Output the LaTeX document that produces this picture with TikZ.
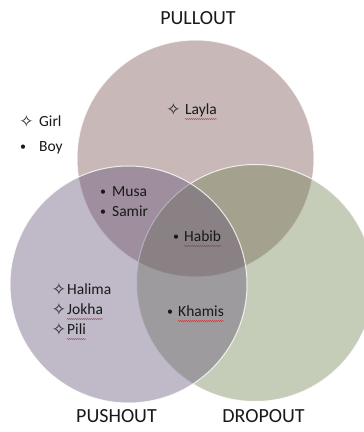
\documentclass[tikz,border=0pt]{standalone}
\usepackage{fontspec}
\setmainfont{Carlito}
\newfontfamily\symfont{DejaVu Sans}
\usetikzlibrary{decorations.pathmorphing}
\definecolor{pullc}{RGB}{120,78,78}
\definecolor{pushc}{RGB}{98,80,118}
\definecolor{dropc}{RGB}{110,130,80}
\definecolor{spellc}{RGB}{200,40,40}
\tikzset{
  venn/.style={fill opacity=0.4, draw=white, draw opacity=0.8, line width=1pt},
  title/.style={anchor=base, inner sep=0pt, font=\fontsize{20}{24}\selectfont, text=black!90},
  item/.style={anchor=base west, inner sep=0pt, font=\fontsize{15.5}{18}\selectfont, text=black!90},
  bulletmark/.style={anchor=base west, inner sep=0pt, font=\fontsize{12}{14}\selectfont, text=black!90},
  starmark/.style={anchor=center, inner sep=0pt, font=\symfont\fontsize{17}{19}\selectfont, text=black!85},
  squiggle/.style={draw=spellc, line width=0.4pt, decorate, decoration={snake, amplitude=0.5pt, segment length=2pt}}
}
\begin{document}
\begin{tikzpicture}[x=1pt,y=-1pt]
\useasboundingbox (0,0) rectangle (364,432);
\clip (0,0) rectangle (364,432);
\fill[white] (0,0) rectangle (364,432);
% circles
\path[venn, fill=pullc] (195.5,158.5) circle[radius=118.5pt];
\path[venn, fill=dropc] (255,283) circle[radius=118.5pt];
\path[venn, fill=pushc] (128.5,284.5) circle[radius=118.5pt];
% titles
\node[title] (pull) at (198,24) {PULLOUT};
\node[title] (push) at (116.5,422) {PUSHOUT};
\node[title] (drop) at (263.5,422) {DROPOUT};
% legend
\node[starmark] (lg1s) at (26.5,121) {✧};
\node[item] (lg1) at (39,126) {Girl};
\node[bulletmark] (lg2s) at (20,150) {•};
\node[item] (lg2) at (39,151) {Boy};
% pullout only
\node[starmark] (laylas) at (173.5,109) {✧};
\node[item] (layla) at (185,114) {Layla};
% pull & push
\node[bulletmark] (musab) at (100,195) {•};
\node[item] (musa) at (112,196) {Musa};
\node[bulletmark] (samirb) at (100,215) {•};
\node[item] (samir) at (112,216) {Samir};
% center
\node[bulletmark] (habibb) at (173,240) {•};
\node[item] (habib) at (184,241) {Habib};
% push only
\node[starmark] (halimas) at (59,289) {✧};
\node[item] (halima) at (67,294) {Halima};
\node[starmark] (jokhas) at (59,309) {✧};
\node[item] (jokha) at (67,314) {Jokha};
\node[starmark] (pilis) at (59,329) {✧};
\node[item] (pili) at (67,334) {Pili};
% push & drop
\node[bulletmark] (khamisb) at (167,315) {•};
\node[item] (khamis) at (178,316) {Khamis};
% spell-check underlines
\foreach \n in {layla,habib,jokha,pili,khamis}{
  \draw[squiggle] ([yshift=-5pt]\n.base west) -- ([yshift=-5pt]\n.base east);
}
\end{tikzpicture}
\end{document}
